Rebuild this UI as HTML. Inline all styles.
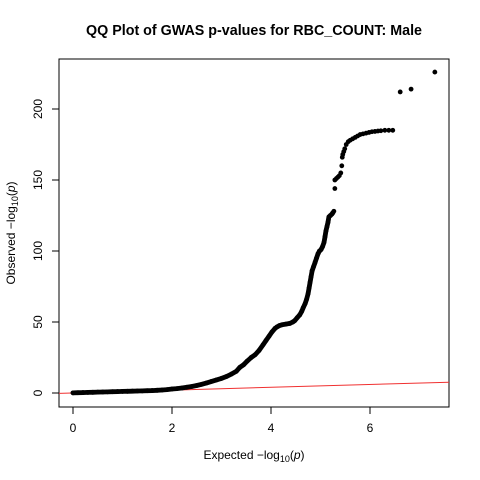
<!DOCTYPE html>
<html><head><meta charset="utf-8"><style>
body{margin:0;background:#fff}
svg{display:block;font-family:"Liberation Sans",sans-serif}
</style></head><body>
<svg id="chart" width="480" height="480">
<rect width="480" height="480" fill="#fff"/>
<text x="254" y="35" text-anchor="middle" font-size="14.3" font-weight="bold">QQ Plot of GWAS p-values for RBC_COUNT: Male</text>
<rect x="59" y="59" width="390" height="348" fill="none" stroke="#000" stroke-width="1"/>
<g id="xaxis"></g>
<g id="yaxis"></g>
<text x="254" y="459" text-anchor="middle" font-size="12">Expected  −log<tspan font-size="9" dy="3">10</tspan><tspan dy="-3">(</tspan><tspan font-style="italic">p</tspan>)</text>
<text transform="translate(15,233) rotate(-90)" text-anchor="middle" font-size="12">Observed  −log<tspan font-size="9" dy="3">10</tspan><tspan dy="-3">(</tspan><tspan font-style="italic">p</tspan>)</text>
<g id="ref"></g>
<g id="pts"></g>
</svg>
<script>
const xTicks=[0,2,4,6];
const yTicks=[0,50,100,150,200];
const expected=[0,0.1,0.2,0.3,0.4,0.5,0.6,0.7,0.8,0.9,1,1.1,1.2,1.3,1.4,1.5,1.6,1.7,1.8,1.9,2,2.1,2.2,2.3,2.4,2.5,2.6,2.7,2.8,2.9,3,3.1,3.2,3.3,3.37,3.45,3.52,3.6,3.68,3.76,3.84,3.9,3.96,4.02,4.08,4.12,4.17,4.22,4.3,4.38,4.44,4.48,4.53,4.58,4.62,4.65,4.69,4.72,4.75,4.77,4.79,4.81,4.83,4.86,4.89,4.92,4.95,4.98,5.01,5.04,5.07,5.09,5.11,5.13,5.15,5.17,5.2,5.23,5.25,5.27,5.29,5.29,5.32,5.35,5.38,5.41,5.43,5.44,5.45,5.47,5.49,5.52,5.56,5.6,5.65,5.7,5.75,5.8,5.86,5.92,5.98,6.04,6.1,6.16,6.22,6.3,6.38,6.46,6.61,6.83,7.31];
const observed=[0.1,0.2,0.3,0.4,0.5,0.6,0.7,0.8,0.9,1,1.1,1.2,1.3,1.4,1.5,1.6,1.7,1.9,2.1,2.4,2.8,3.1,3.5,4,4.6,5.3,6.1,7.1,8.2,9.2,10.3,11.6,13.3,15.3,18,20,22.5,25,27,30,34,37,40,43,45.5,46.5,47.5,48,48.5,49,50,51,53,55,57.5,60,63,66,70,74,78,82,86,89,92,95,98,100,101,103,106,110,114,117,120,124,125,126,127,128,144,150,151,152,153,155,160,166,168,170,172,175,177,178,179,180,181,182,182.5,183,183.5,184,184.2,184.5,184.7,185,185,185,212,214,226];
const ns="http://www.w3.org/2000/svg";
const X0=73,XS=49.5,Y0=393,YS=1.42;
function sx(v){return X0+v*XS}
function sy(v){return Y0-v*YS}
function mk(t,a,p){const e=document.createElementNS(ns,t);for(const k in a)e.setAttribute(k,a[k]);p.appendChild(e);return e}
const xa=document.getElementById('xaxis'),ya=document.getElementById('yaxis');
mk('line',{x1:sx(0),x2:sx(6),y1:407,y2:407,stroke:'#000'},xa);
xTicks.forEach(t=>{
const l=mk('line',{x1:sx(t),x2:sx(t),y1:407,y2:414,stroke:'#000'},xa);


const tx=mk('text',{x:sx(t),y:432,'text-anchor':'middle','font-size':12},xa);tx.textContent=t;


});
mk('line',{x1:59,x2:59,y1:sy(0),y2:sy(200),stroke:'#000'},ya);
yTicks.forEach(t=>{
const l=mk('line',{x1:52,x2:59,y1:sy(t),y2:sy(t),stroke:'#000'},ya);


const tx=mk('text',{transform:`translate(42,${sy(t)}) rotate(-90)`,'text-anchor':'middle','font-size':12},ya);tx.textContent=t;


});
const ref=document.getElementById('ref');
const rl=mk('line',{x1:59,y1:sy((59-X0)/XS),x2:449,y2:sy((449-X0)/XS),stroke:'#f03030','stroke-width':1},ref);


const pts=document.getElementById('pts');
// dense stretch of overlapping points drawn as a thick band
let d='';
for(let i=0;i<expected.length;i++){
if(expected[i]>5.25)break;
d+=(d?'L':'M')+sx(expected[i]).toFixed(1)+' '+sy(observed[i]).toFixed(1);
}
const band=mk('path',{d:d,fill:'none',stroke:'#000','stroke-width':4.8,'stroke-linecap':'round','stroke-linejoin':'round'},pts);


for(let i=0;i<expected.length;i++){
const c=mk('circle',{cx:sx(expected[i]),cy:sy(observed[i]),r:2.4,fill:'#000'},pts);


}
</script>
</body></html>
